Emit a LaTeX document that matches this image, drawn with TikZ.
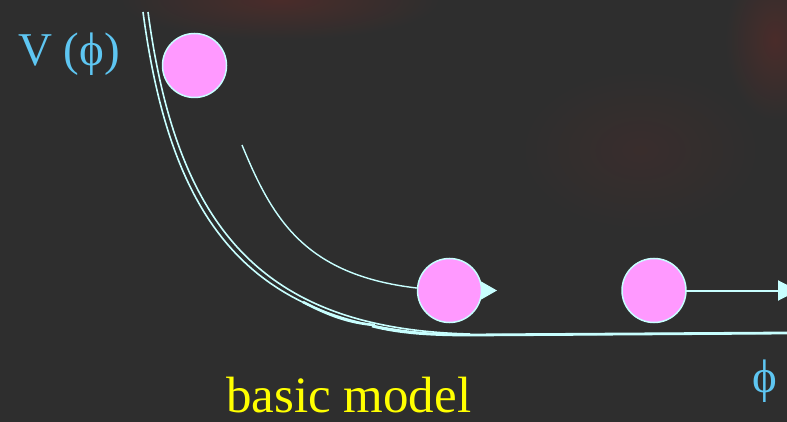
\documentclass[tikz,border=0pt]{standalone}
\usepackage{fontspec}
\setmainfont{Liberation Serif}
\usetikzlibrary{arrows.meta}
\definecolor{bg}{HTML}{2E2E2E}
\definecolor{blob}{HTML}{4A2C2A}
\definecolor{curve}{HTML}{C8FFFF}
\definecolor{ballfill}{HTML}{FF99FF}
\definecolor{labelblue}{HTML}{5EC6F2}
\definecolor{labelyellow}{HTML}{FFFF00}
\tikzset{
  ball/.style={circle, minimum size=64pt, inner sep=0pt, draw=curve, line width=1.5pt, fill=ballfill},
  potline/.style={draw=curve, line width=1.6pt},
  trajline/.style={draw=curve, line width=1.4pt},
  bluelabel/.style={text=labelblue, font=\fontsize{47}{56}\selectfont, inner sep=0pt, anchor=base west},
  yellowlabel/.style={text=labelyellow, font=\fontsize{51}{60}\selectfont, inner sep=0pt, text depth=0pt, anchor=base west}
}
\begin{document}
\begin{tikzpicture}[x=1pt,y=-1pt]
\useasboundingbox (0,0) rectangle (787,422);
\clip (0,0) rectangle (787,422);
\fill[bg] (0,0) rectangle (787,422);
% faint reddish glow in the background
\shade[inner color=blob, outer color=bg] (280,0) ellipse [x radius=160pt, y radius=40pt];
\shade[inner color=blob!40!bg, outer color=bg] (640,150) ellipse [x radius=120pt, y radius=80pt];
\shade[inner color=blob, outer color=bg] (775,40) ellipse [x radius=50pt, y radius=80pt];

% labels
\node[bluelabel] (vlabel) at (18,66) {V (ϕ)};
\node[bluelabel] (philabel) at (752,392) {ϕ};
\node[yellowlabel] (title) at (226,412) {basic model};

% potential curve (double line, merging into one thick line)
\coordinate (potA0) at (143,12);
\coordinate (potB0) at (148,12);
\coordinate (potEnd) at (787,333);
\coordinate (potMid) at (470,335);
\draw[potline] (potA0) .. controls (172,230) and (255,333) .. (potMid) -- (potEnd);
\draw[potline] (potB0) .. controls (177,228) and (262,329) .. (470,334);
\draw[curve, line width=2.6pt] (303,302) .. controls (330,316) and (350,323) .. (375,325);
\draw[curve, line width=2.8pt] (372,326) .. controls (400,333) and (430,335) .. (potMid) -- (potEnd);

% balls
\node[ball] (b1) at (194.5,65.5) {};
\coordinate (tip2) at (497,290.5);
\coordinate (tip3) at (798,290.5);
\coordinate (trajStart) at (242,145);
\coordinate (b2c) at (449.5,290.5);
\coordinate (b3c) at (654,290.5);

% trajectory and arrows (drawn beneath the balls)
\draw[trajline] (trajStart) .. controls (275,225) and (310,285) .. (b2c);
\draw[trajline, -{Triangle[length=17pt,width=19pt]}] (b2c) -- (tip2);
\draw[curve, line width=2pt, -{Triangle[length=20pt,width=20pt]}] (b3c) -- (tip3);

\node[ball] (b2) at (b2c) {};
\node[ball] (b3) at (b3c) {};
\end{tikzpicture}
\end{document}
